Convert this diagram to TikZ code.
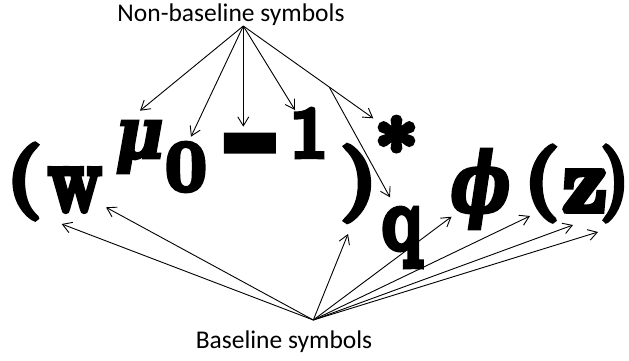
\documentclass[tikz,border=0pt]{standalone}
\usepackage{fontspec}
\newfontfamily\lab{Carlito}
\newfontfamily\hv{lmroman10-bold.otf}[FakeBold=6.5]
\newfontfamily\gk{DejaVu Serif Bold Italic}[FakeBold=3.5]
\usetikzlibrary{arrows.meta}
\begin{document}
\begin{tikzpicture}[x=1pt,y=-1pt,
  lbl/.style={font=\lab\fontsize{25.5}{30}\selectfont, inner sep=0pt, anchor=base},
  gl/.style={inner sep=0pt, anchor=center},
  arr/.style={-{Straight Barb[length=9pt,width=11pt]}, line width=0.9pt}]
\useasboundingbox (0,0) rectangle (629,360);
% labels
\node[lbl] (nbl) at (231,21) {Non-baseline symbols};
\node[lbl] (bl) at (284,348) {Baseline symbols};
% formula glyphs
\node[gl] (lp1) at (24,181.5) {\resizebox*{35pt}{75pt}{\hv (}};
\node[gl] (w) at (75,190) {\resizebox*{54pt}{42pt}{\hv w}};
\node[gl] (mu) at (139.5,147) {\resizebox*{48pt}{52pt}{\gk μ}};
\node[gl] (zero) at (186,167) {\resizebox*{41pt}{48pt}{\hv 0}};
\node[inner sep=0pt, anchor=base] (minus) at (253.5,172) {\scalebox{14}[13]{\hv -}};
\node[gl] (one) at (309,133) {\resizebox*{37pt}{48pt}{\hv 1}};
\node[inner sep=0pt, anchor=north] (ast) at (396.5,117) {\makebox[30pt]{\fontsize{76}{76}\selectfont\hv *}};
\node[gl] (rp1) at (359,183.5) {\makebox[30pt]{\resizebox*{37pt}{76pt}{\hv )}}};
\node[gl] (q) at (402,237.5) {\resizebox*{40pt}{58pt}{\hv q}};
\node[gl] (phi) at (480.5,189) {\resizebox*{60pt}{80pt}{\gk ϕ}};
\node[gl] (lp2) at (541.5,183.5) {\resizebox*{35pt}{75pt}{\hv (}};
\node[gl] (z) at (585,191) {\makebox[38pt]{\resizebox*{45pt}{40pt}{\hv z}}};
\node[gl] (rp2) at (615,183.5) {\makebox[20pt]{\resizebox*{28pt}{75pt}{\hv )}}};
% connector points
\coordinate (ta) at (243.3,26);
\coordinate (br) at (329.3,87.2);
\coordinate (ba) at (313.3,320);
\coordinate (tmu) at (140,110.7);
\coordinate (tzero) at (191,136.7);
\coordinate (tminus) at (243.3,126.7);
\coordinate (tone) at (295,110);
\coordinate (tast) at (373.3,118.3);
\coordinate (tq) at (390,197.3);
\coordinate (blp1) at (61.7,224);
\coordinate (bw) at (106,207.3);
\coordinate (brp1) at (348,234);
\coordinate (bphi) at (451.5,216.7);
\coordinate (blp2) at (530,216);
\coordinate (bz) at (573,225);
\coordinate (brp2) at (598,232);
% top arrows
\draw[arr] (ta) -- (tmu);
\draw[arr] (ta) -- (tzero);
\draw[arr] (ta) -- (tminus);
\draw[arr] (ta) -- (tone);
\draw[arr] (ta) -- (tast);
\draw[arr] (br) -- (tq);
% bottom arrows
\draw[arr] (ba) -- (blp1);
\draw[arr] (ba) -- (bw);
\draw[arr] (ba) -- (brp1);
\draw[arr] (ba) -- (bphi);
\draw[arr] (ba) -- (blp2);
\draw[arr] (ba) -- (bz);
\draw[arr] (ba) -- (brp2);
\end{tikzpicture}
\end{document}
